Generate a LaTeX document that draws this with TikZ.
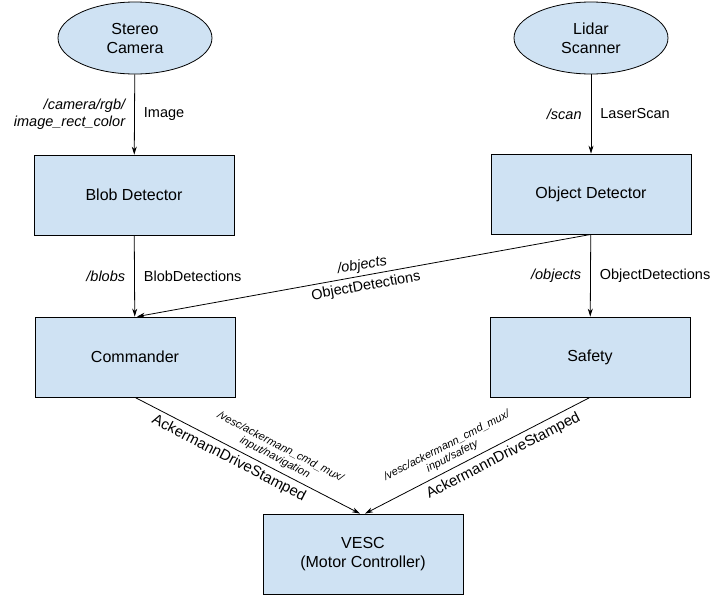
\documentclass[tikz,border=0pt]{standalone}
\usepackage{fontspec}
\setmainfont{Liberation Sans}
\usepackage{tikz}
\usetikzlibrary{arrows.meta,shapes.geometric,calc}
\definecolor{boxfill}{RGB}{207,226,243}
\tikzset{
  sensor/.style={ellipse,draw=black,fill=boxfill,line width=0.8pt,minimum width=154pt,minimum height=72pt,align=center,font=\fontsize{16}{19}\selectfont},
  block/.style={rectangle,draw=black,fill=boxfill,line width=0.8pt,minimum width=200pt,minimum height=80pt,align=center,font=\fontsize{16}{19}\selectfont},
  topic/.style={font=\fontsize{14.5}{17}\selectfont\itshape,align=right},
  msgtype/.style={font=\fontsize{14.5}{17}\selectfont},
  smalltopic/.style={font=\fontsize{11}{12}\selectfont\itshape,align=center},
  conn/.style={line width=0.8pt,-{Stealth[length=8pt,width=5pt]}}
}
\begin{document}
\begin{tikzpicture}[x=1pt,y=-1pt]
\useasboundingbox (0,0) rectangle (726,600);
% sensors
\node[sensor] (camera) at (135,38) {Stereo\\Camera};
\node[sensor] (lidar) at (591,38) {Lidar\\Scanner};
% processing nodes
\node[block] (blob) at (134,195) {Blob Detector};
\node[block] (objdet) at (591,194) {Object Detector};
\node[block] (commander) at (135,357) {Commander};
\node[block] (safety) at (590,357) {Safety};
\node[block] (vesc) at (363,554) {VESC\\(Motor Controller)};
% topics
\draw[conn] (camera) -- (blob)
  node[pos=0.5,left,topic,inner sep=9pt] {/camera/rgb/\\image\_rect\_color}
  node[pos=0.5,right,msgtype,inner sep=9pt] {Image};
\draw[conn] (lidar) -- (objdet)
  node[pos=0.5,left,topic,inner sep=9pt] {/scan}
  node[pos=0.5,right,msgtype,inner sep=9pt] {LaserScan};
\draw[conn] (blob) -- (commander)
  node[pos=0.5,left,topic,inner sep=9pt] {/blobs}
  node[pos=0.5,right,msgtype,inner sep=9pt] {BlobDetections};
\draw[conn] (objdet) -- (safety)
  node[pos=0.5,left,topic,inner sep=9pt] {/objects}
  node[pos=0.5,right,msgtype,inner sep=9pt] {ObjectDetections};
\draw[conn] (objdet.south) -- ([xshift=2pt]commander.north)
  node[pos=0.5,sloped,above,font=\fontsize{14.5}{17}\selectfont\itshape,inner sep=3pt] {/objects}
  node[pos=0.5,sloped,below,msgtype,inner sep=4pt] {ObjectDetections};
\draw[conn] (commander.south) -- ([xshift=-3pt]vesc.north)
  node[pos=0.44,sloped,below,font=\fontsize{15}{18}\selectfont,inner sep=4pt] {AckermannDriveStamped}
  node[pos=0.6,sloped,above,smalltopic,inner sep=5pt] {/vesc/ackermann\_cmd\_mux/\\input/navigation};
\draw[conn] (safety.south) -- ([xshift=2pt]vesc.north)
  node[pos=0.41,sloped,below,font=\fontsize{15}{18}\selectfont,inner sep=5pt] {AckermannDriveStamped}
  node[pos=0.59,sloped,above,smalltopic,inner sep=5pt] {/vesc/ackermann\_cmd\_mux/\\input/safety};
\end{tikzpicture}
\end{document}
